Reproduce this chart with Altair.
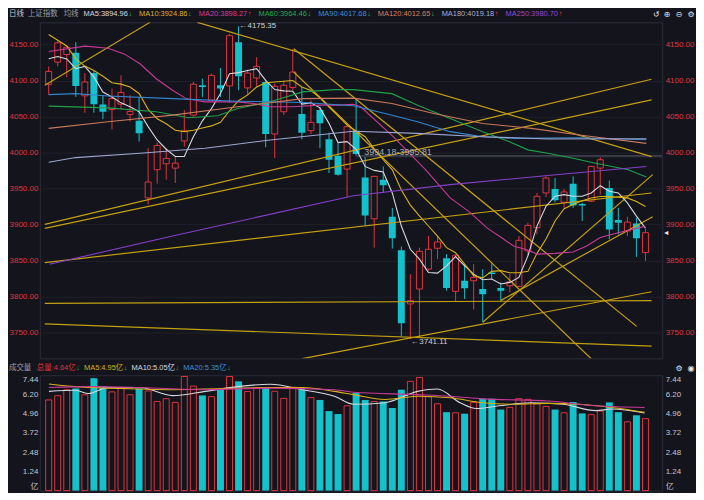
import altair as alt
import pandas as pd

# ---------------- data ----------------
opens = [4094.8, 4125.6, 4136.2, 4138.5, 4078.7, 4110.4, 4066.7, 4059.8, 4067.2, 4052.9,
         4044.2, 3937.0, 3976.1, 3984.4, 3978.4, 4016.1, 4052.0, 4093.4, 4072.7, 4093.4,
         4092.5, 4153.2, 4089.7, 4103.5, 4098.0, 4025.8, 4056.6, 4090.2, 4053.4, 4030.4,
         4058.9, 4018.4, 3995.4, 3977.0, 4030.4, 3965.5, 3908.0, 3962.3, 3910.8, 3864.3,
         3789.8, 3810.5, 3838.1, 3867.1, 3853.3, 3807.3, 3822.0, 3822.0, 3810.5, 3833.5,
         3811.9, 3815.0, 3814.2, 3863.4, 3895.6, 3943.9, 3949.4, 3931.0, 3956.8, 3928.7,
         3932.4, 3978.4, 3950.8, 3906.2, 3891.0, 3901.6, 3861.1]
highs = [4119.6, 4155.5, 4148.6, 4153.2, 4110.4, 4113.2, 4079.6, 4088.8, 4107.2, 4079.6,
         4077.3, 4006.0, 4013.8, 4006.0, 3994.5, 4058.9, 4098.0, 4102.6, 4109.5, 4117.3,
         4164.7, 4175.35, 4115.0, 4132.5, 4100.3, 4095.7, 4098.0, 4144.0, 4091.1, 4072.7,
         4063.5, 4027.6, 4012.9, 4040.5, 4075.0, 3994.18, 3967.8, 3980.7, 3923.2, 3869.4,
         3831.2, 3868.0, 3884.1, 3884.1, 3858.8, 3858.8, 3845.0, 3845.0, 3838.1, 3846.0,
         3819.7, 3831.2, 3884.1, 3902.5, 3943.9, 3966.9, 3964.6, 3949.4, 3966.9, 3930.1,
         3981.6, 3993.6, 3961.0, 3923.2, 3910.8, 3909.4, 3894.2]
lows = [4080.5, 4119.6, 4104.9, 4077.3, 4055.2, 4055.2, 4046.5, 4032.2, 4059.8, 4042.8,
        4015.2, 3927.8, 3956.8, 3962.3, 3957.7, 4008.3, 4049.7, 4077.3, 4071.8, 4077.3,
        4069.0, 4086.5, 4079.6, 4092.5, 4007.4, 3992.2, 4052.0, 4086.5, 4018.4, 4025.8,
        4006.0, 3971.5, 3967.8, 3938.4, 3995.81, 3898.8, 3868.0, 3943.9, 3866.6, 3745.0,
        3741.11, 3743.0, 3835.8, 3851.9, 3808.2, 3793.0, 3796.7, 3782.0, 3765.0, 3824.3,
        3794.4, 3805.9, 3812.8, 3856.5, 3886.4, 3938.4, 3931.0, 3923.2, 3923.2, 3904.8,
        3931.0, 3941.6, 3879.5, 3886.4, 3884.1, 3855.1, 3849.6]
closes = [4112.7, 4152.3, 4146.3, 4092.5, 4098.0, 4067.2, 4056.6, 4075.0, 4083.3, 4057.1,
          4026.7, 3959.1, 4009.7, 3991.8, 3985.3, 4030.0, 4094.8, 4091.1, 4107.2, 4088.8,
          4162.4, 4105.8, 4110.4, 4119.6, 4025.8, 4092.0, 4093.4, 4111.8, 4027.6, 4041.9,
          4040.5, 3990.0, 3969.2, 4035.9, 3998.0, 3912.6, 3966.9, 3954.5, 3880.9, 3763.1,
          3794.4, 3862.9, 3865.7, 3875.8, 3811.9, 3857.4, 3811.4, 3826.6, 3803.2, 3831.2,
          3808.2, 3820.6, 3878.1, 3898.8, 3939.3, 3964.6, 3933.8, 3945.3, 3926.4, 3926.4,
          3980.7, 3990.0, 3893.3, 3902.5, 3903.4, 3880.9, 3888.7]
volumes = [5.85, 6.12, 6.51, 6.59, 6.18, 7.25, 6.74, 6.37, 6.59, 6.18,
           6.59, 6.43, 5.75, 5.93, 5.69, 7.36, 6.74, 6.14, 6.06, 6.59,
           7.36, 7.05, 6.39, 6.65, 6.65, 6.41, 5.95, 6.67, 6.53, 6.00,
           5.85, 5.13, 4.94, 5.47, 6.30, 5.85, 5.75, 5.75, 5.33, 6.51,
           7.05, 7.30, 6.06, 5.60, 5.06, 5.02, 4.96, 5.69, 5.93, 5.93,
           5.23, 5.37, 5.93, 5.89, 5.60, 5.43, 5.23, 5.02, 5.71, 4.98,
           4.90, 5.13, 5.69, 5.06, 4.44, 4.86, 4.64]

ma5_vals = [4130.2, 4133.4, 4130.0, 4116.4, 4119.6, 4105.0, 4084.0, 4077.0, 4069.0, 4063.5,
            4056.6, 4036.0, 4017.5, 4004.6, 3994.5, 3994.5, 4022.0, 4044.0, 4061.0, 4082.0,
            4109.5, 4111.0, 4114.0, 4116.4, 4100.3, 4087.4, 4085.6, 4085.0, 4067.2, 4069.0,
            4062.0, 4040.5, 4013.8, 4015.2, 4004.6, 3980.7, 3975.2, 3972.9, 3943.9, 3897.9,
            3865.7, 3851.9, 3833.5, 3832.6, 3842.7, 3855.6, 3842.7, 3831.2, 3823.4, 3824.3,
            3817.4, 3819.7, 3826.6, 3856.5, 3897.9, 3925.5, 3939.3, 3941.6, 3939.3, 3939.3,
            3943.9, 3954.0, 3946.2, 3943.9, 3930.1, 3911.7, 3895.0]
ma10_vals = [4164, 4156, 4148, 4130, 4120, 4114, 4106, 4097, 4095, 4091,
             4082, 4060, 4047, 4040, 4031, 4029, 4031, 4034, 4037, 4042,
             4058, 4072, 4080, 4091, 4097, 4098, 4099, 4100, 4091, 4086,
             4076, 4063, 4051, 4038, 4030, 4022, 4005, 3990, 3976, 3948,
             3927, 3912, 3898, 3884, 3868, 3861, 3845, 3829, 3826, 3835,
             3836, 3833, 3833, 3835, 3860, 3880, 3905, 3922, 3928, 3933,
             3937, 3939, 3939, 3938, 3937, 3932, 3925]
ma20_at = [1.0, 5.05, 7.56, 9.35, 11.1, 12.9, 14.7, 16.2, 18.3, 21.9, 23.7, 25.5, 28.0, 30.9,
           33.2, 34.7, 35.5, 39.1, 42.7, 45.4, 47.5, 49.5, 51.1, 52.4, 53.7, 55.05, 57.0,
           59.0, 60.5, 62.0, 64.0, 66.9]
ma20_vals = [4140.3, 4147.7, 4144.9, 4137.0, 4123.2, 4102.5, 4086.5, 4074.9, 4070.4, 4070.4,
             4068.0, 4063.5, 4063.5, 4065.8, 4065.8, 4067.0, 4063.5, 4022.0, 3976.0, 3937.0,
             3918.0, 3895.0, 3881.7, 3870.2, 3865.7, 3859.0, 3860.0, 3862.0, 3870.2, 3882.0,
             3888.6, 3897.5]
ma60_at = [1, 7.56, 12.9, 16.5, 19.7, 21.9, 25.5, 29.1, 32.7, 34.7, 38.96, 41.8, 45.4, 49.0,
           51.9, 54.0, 56.2, 59.0, 61.5, 65.1, 67.1]
ma60_vals = [4064.4, 4062.0, 4056.6, 4048.3, 4051.0, 4061.1, 4070.4, 4084.2, 4087.3, 4087.3,
             4081.8, 4065.8, 4047.3, 4029.0, 4015.2, 4003.7, 3999.0, 3992.1, 3985.2, 3976.0,
             3966.0]
ma90_at = [1, 3.97, 7.56, 14.7, 21.9, 29.1, 34.7, 38.2, 41.8, 45.4, 49.0, 52.6, 59.7, 67.1]
ma90_vals = [4080.4, 4081.8, 4078.6, 4074.9, 4071.3, 4069.4, 4065.0, 4054.2, 4042.8, 4029.0,
             4022.0, 4019.7, 4020.6, 4017.7]
ma120_at = [1, 7.56, 14.7, 21.9, 29.1, 34.7, 38.96, 43.6, 49.0, 54.4, 59.7, 67.1]
ma120_vals = [4033.5, 4042.8, 4052.0, 4063.5, 4074.9, 4075.5, 4068.0, 4054.2, 4040.4, 4033.5,
              4024.3, 4012.7]
ma180_at = [1, 3.97, 11.1, 18.3, 25.5, 34.7, 41.8, 49.0, 56.2, 67.1]
ma180_vals = [3986.6, 3993.0, 3999.0, 4005.9, 4017.5, 4029.5, 4026.6, 4022.0, 4018.9, 4019.2]
ma250_at = [1.1, 14.7, 34.7, 45.4, 56.2, 67.1]
ma250_vals = [3845.0, 3884.0, 3940.0, 3955.4, 3968.2, 3980.7]

vma5_at = [1.03, 3.98, 5.4, 7.56, 11.1, 14.7, 18.3, 21.9, 25.5, 29.1, 32.6, 34.7, 38.2, 41.8,
           44.0, 46.5, 48.3, 50.8, 54.4, 57.9, 61.5, 63.3, 66.9]
vma5_vals = [6.40, 6.47, 6.26, 6.65, 6.65, 6.13, 6.40, 6.71, 6.86, 6.51, 6.09, 5.57, 5.67, 6.40,
             6.55, 5.67, 5.30, 5.47, 5.67, 5.57, 5.16, 5.26, 5.01]
vma10_at = [1.03, 3.98, 7.56, 11.1, 14.7, 18.3, 25.5, 29.1, 32.6, 34.7, 38.2, 41.8, 45.4, 49.0,
            52.6, 56.2, 59.7, 63.3, 66.9]
vma10_vals = [6.88, 6.71, 6.61, 6.55, 6.51, 6.55, 6.65, 6.65, 6.40, 6.19, 5.88, 6.09, 5.99, 5.67,
              5.57, 5.63, 5.57, 5.36, 5.05]
vma20_at = [1.03, 5.77, 11.1, 18.3, 25.5, 32.6, 34.7, 41.8, 45.4, 49.0, 56.2, 61.5, 66.9]
vma20_vals = [6.65, 6.71, 6.65, 6.51, 6.61, 6.51, 6.34, 6.19, 6.09, 5.92, 5.78, 5.47, 5.36]

# drawn trend lines: (candle index, price) start and end
trend_x1 = [0.57, 17.45, 0.57, 0.57, 0.57, 0.57, 0.57, 29.06, 28.1, 28.1, 49.0, 50.97]
trend_p1 = [4093.4, 4180.8, 3900.2, 3894.6, 3847.2, 3790.6, 3762.2, 3713.8, 4144.0, 4111.8, 3764.4, 3794.4]
trend_x2 = [12.2, 67.67, 67.67, 67.67, 67.67, 67.67, 67.67, 67.67, 66.03, 61.3, 67.8, 67.8]
trend_p2 = [4180.8, 3994.4, 4101.7, 4073.1, 3943.8, 3794.4, 3731.3, 3806.7, 3758.6, 3710.0, 3969.3, 3910.8]

price_ticks = [3750, 3800, 3850, 3900, 3950, 4000, 4050, 4100, 4150]
vol_ticks = [0, 1.24, 2.48, 3.72, 4.96, 6.20, 7.44]

high_idx, high_mark = 22, 4175.35
low_idx, low_mark = 41, 3741.11
gap_idx, gap_lo, gap_hi = 35, 3994.18, 3995.81

ma_names = ["MA5", "MA10", "MA20", "MA60", "MA90", "MA120", "MA180", "MA250"]
ma_last = [3894.96, 3924.86, 3898.27, 3964.46, 4017.68, 4012.65, 4019.18, 3980.70]
ma_dir = ["down", "down", "up", "down", "down", "down", "up", "up"]
vol_total, vol_total_dir = 4.64, "down"
vma_names = ["MA5", "MA10", "MA20"]
vma_last = [4.95, 5.05, 5.35]
vma_dir = ["down", "down", "down"]

# ---------------- styling / layout ----------------
BG = "#13141c"
UP_C = "#e0343e"
DN_C = "#15c1cb"
TREND_C = "#c4a012"
GRID_C = "#1f2029"
BORDER_C = "#2b2d39"
TXT_C = "#c9cad2"
DIM_C = "#9d9ea8"
ARR_DN = "#1fbf5a"
ARR_UP = "#f0303a"
ICON_C = "#e4e4ea"
ma_colors = ["#d8d8de", "#d8b21a", "#c93a97", "#21a04a", "#3586d0", "#c9785c", "#9ea6cf", "#8440c8"]
hdr_colors = ["#d9dae0", "#dcb51c", "#d83b9c", "#23a94d", "#3a8ddd", "#d98060", "#a6add8", "#9548d8"]
vma_colors = ["#c9a514", "#d0d0d8", "#3586d0"]
vhdr_colors = ["#d6b01c", "#d9dae0", "#3a8ddd"]

W, H1, H2 = 626, 338, 116
NUM_FONT = "Liberation Sans"
MIX_FONT = "Liberation Sans, Noto Sans CJK SC"
SYM_FONT = "DejaVu Sans"
HDR_SIZE = 7.5
REF_SHIFT = -35          # reference x -> offset from plot's left edge (+4 px page shift)

n = len(opens)
df = pd.DataFrame({"i": list(range(1, n + 1)), "o": opens, "h": highs, "l": lows,
                   "c": closes, "v": volumes})

xs = alt.Scale(domain=[0.57, 68.3], nice=False, zero=False)
ys = alt.Scale(domain=[3714.2, 4180.8], nice=False, zero=False)
vs = alt.Scale(domain=[0, 7.44], nice=False, zero=True)
X = alt.X("i:Q", scale=xs, axis=None)

UPF = "datum.c >= datum.o"
DNF = "datum.c < datum.o"

left_axis = alt.Axis(orient="left", values=price_ticks, format=".2f", labelColor=UP_C,
                     labelFontSize=8, labelFont=NUM_FONT, ticks=False, domain=False, grid=True,
                     gridColor=GRID_C, labelPadding=2, title=None)
right_axis = alt.Axis(orient="right", values=price_ticks, format=".2f", labelColor=UP_C,
                      labelFontSize=8, labelFont=NUM_FONT, ticks=False, domain=False,
                      grid=False, labelPadding=3, title=None)


def est_width(s, size):
    w = 0.0
    for ch in s:
        if ch.isdigit():
            w += 0.556
        elif ch in ".:":
            w += 0.278
        elif ch == "M":
            w += 0.833
        elif ch == "A":
            w += 0.667
        elif ord(ch) > 0x2E80:
            w += 1.0
        else:
            w += 0.556
    return w * size


def text_at(s, px, py, color, align="left", font=MIX_FONT, size=HDR_SIZE):
    return alt.Chart(pd.DataFrame({"t": [s]})).mark_text(
        align=align, baseline="middle", font=font, fontSize=size, color=color
    ).encode(x=alt.value(px), y=alt.value(py), text="t:N")


def arrow_char(d):
    return ("↓", ARR_DN) if d == "down" else ("↑", ARR_UP)


def header_row(plain, items, start_ref, py, gap):
    out = []
    for s, ref_x, col in plain:
        out.append(text_at(s, ref_x + REF_SHIFT, py, col))
    x = start_ref + REF_SHIFT
    for s, col, d in items:
        out.append(text_at(s, x, py, col))
        x += est_width(s, HDR_SIZE) + 0.5
        ch, acol = arrow_char(d)
        out.append(text_at(ch, x, py, acol, font=NUM_FONT))
        x += 0.5 * HDR_SIZE + gap
    return out


def icons(symbols, ref_xs, py):
    return [text_at(s, rx + REF_SHIFT - 6, py, ICON_C, align="center", font=SYM_FONT, size=8)
            for s, rx in zip(symbols, ref_xs)]


base = alt.Chart(df)
wick_up = base.transform_filter(UPF).mark_rule(color=UP_C, strokeWidth=1, clip=True).encode(
    x=X, y=alt.Y("l:Q", scale=ys, axis=left_axis), y2="h:Q")
wick_dn = base.transform_filter(DNF).mark_rule(color=DN_C, strokeWidth=1, clip=True).encode(
    x=X, y=alt.Y("l:Q", scale=ys, axis=None), y2="h:Q")
body_dn = base.transform_filter(DNF).mark_bar(size=7, color=DN_C, clip=True).encode(
    x=X, y=alt.Y("o:Q", scale=ys, axis=None), y2="c:Q")
body_up = base.transform_filter(UPF).mark_bar(size=6, fill=BG, stroke=UP_C, strokeWidth=1,
                                              clip=True).encode(
    x=X, y=alt.Y("o:Q", scale=ys, axis=None), y2="c:Q")

rows = []
series = [("MA5", list(range(1, n + 1)), ma5_vals), ("MA10", list(range(1, n + 1)), ma10_vals),
          ("MA20", ma20_at, ma20_vals), ("MA60", ma60_at, ma60_vals), ("MA90", ma90_at, ma90_vals),
          ("MA120", ma120_at, ma120_vals), ("MA180", ma180_at, ma180_vals),
          ("MA250", ma250_at, ma250_vals)]
for name, ats, vals in series:
    for a, b in zip(ats, vals):
        rows.append({"name": name, "i": a, "val": b})
ma_df = pd.DataFrame(rows)
ma_lines = alt.Chart(ma_df).mark_line(strokeWidth=1.1, clip=True).encode(
    x=alt.X("i:Q", scale=xs, axis=None), y=alt.Y("val:Q", scale=ys, axis=None),
    color=alt.Color("name:N", scale=alt.Scale(domain=ma_names, range=ma_colors), legend=None))

tr_df = pd.DataFrame({"x1": trend_x1, "p1": trend_p1, "x2": trend_x2, "p2": trend_p2})
trends = alt.Chart(tr_df).mark_rule(color=TREND_C, strokeWidth=1.2, clip=True).encode(
    x=alt.X("x1:Q", scale=xs, axis=None), x2="x2:Q",
    y=alt.Y("p1:Q", scale=ys, axis=None), y2="p2:Q")

gap_df = pd.DataFrame({"i": [gap_idx, gap_idx], "p": [gap_lo, gap_hi]})
gap_lines = alt.Chart(gap_df).mark_rule(color="#3d3f4c", strokeWidth=1, clip=True).encode(
    x=alt.X("i:Q", scale=xs, axis=None), x2=alt.value(W), y=alt.Y("p:Q", scale=ys, axis=None))
gap_text = alt.Chart(pd.DataFrame({"i": [gap_idx + 0.9], "p": [4001.0],
                                   "t": [f"{gap_lo:.2f}-{gap_hi:.2f}"]})).mark_text(
    align="left", baseline="middle", font=NUM_FONT, fontSize=9, color="#a9aab4").encode(
    x=alt.X("i:Q", scale=xs, axis=None), y=alt.Y("p:Q", scale=ys, axis=None), text="t:N")

hi_text = alt.Chart(pd.DataFrame({"i": [high_idx], "p": [high_mark],
                                  "t": [f"←{high_mark:.2f}"]})).mark_text(
    align="left", baseline="middle", dx=1, font=NUM_FONT, fontSize=8, color="#cfd0d8").encode(
    x=alt.X("i:Q", scale=xs, axis=None), y=alt.Y("p:Q", scale=ys, axis=None), text="t:N")
lo_text = alt.Chart(pd.DataFrame({"i": [low_idx], "p": [low_mark],
                                  "t": [f"←{low_mark:.2f}"]})).mark_text(
    align="left", baseline="middle", dx=1, dy=3, font=NUM_FONT, fontSize=8, color="#cfd0d8").encode(
    x=alt.X("i:Q", scale=xs, axis=None), y=alt.Y("p:Q", scale=ys, axis=None), text="t:N")

last_mark = alt.Chart(pd.DataFrame({"p": [closes[-1]], "t": ["◂"]})).mark_text(
    align="left", baseline="middle", font=SYM_FONT, fontSize=8, color="#e8e8ee").encode(
    x=alt.value(W + 2), y=alt.Y("p:Q", scale=ys, axis=None), text="t:N")

top_items = [(f"{nm}:{v:.2f}", col, d) for nm, v, col, d in zip(ma_names, ma_last, hdr_colors, ma_dir)]
top_hdr = header_row([("日线", 4, TXT_C), ("上证指数", 23, DIM_C), ("均线", 59, DIM_C)],
                     top_items, 79, -8, 7)
top_icons = icons(["↺", "⊕", "⊖", "⚙"], [661, 672, 684, 696], -7.5)

price_right = base.mark_point(opacity=0, size=1).encode(
    x=X, y=alt.Y("h:Q", scale=ys, axis=right_axis))
price = alt.layer(wick_up, wick_dn, body_dn, body_up, gap_lines, trends, ma_lines,
                  gap_text, hi_text, lo_text, last_mark, *top_hdr, *top_icons, price_right
                  ).resolve_scale(y="independent").properties(width=W, height=H1)

# ---------------- volume panel ----------------
vlabel = "datum.value == 0 ? '亿' : format(datum.value, '.2f')"
vleft = alt.Axis(orient="left", values=vol_ticks, labelExpr=vlabel, labelColor="#c4c5cc",
                 labelFontSize=8, labelFont=MIX_FONT, ticks=False, domain=False, grid=False,
                 labelFlush=True, labelPadding=2, title=None)
vright = alt.Axis(orient="right", values=vol_ticks, labelExpr=vlabel, labelColor="#c4c5cc",
                  labelFontSize=8, labelFont=MIX_FONT, ticks=False,
                  domain=False, grid=False, labelFlush=True, labelPadding=3, title=None)

vol_dn = base.transform_filter(DNF).mark_bar(size=7, color=DN_C).encode(
    x=X, y=alt.Y("v:Q", scale=vs, axis=vleft))
vol_up = base.transform_filter(UPF).mark_bar(size=6, fill=BG, stroke=UP_C, strokeWidth=1).encode(
    x=X, y=alt.Y("v:Q", scale=vs, axis=None))

vrows = []
for name, ats, vals in [("MA5", vma5_at, vma5_vals), ("MA10", vma10_at, vma10_vals),
                        ("MA20", vma20_at, vma20_vals)]:
    for a, b in zip(ats, vals):
        vrows.append({"name": name, "i": a, "val": b})
vma_df = pd.DataFrame(vrows)
vma_lines = alt.Chart(vma_df).mark_line(strokeWidth=1.1, interpolate="monotone").encode(
    x=alt.X("i:Q", scale=xs, axis=None), y=alt.Y("val:Q", scale=vs, axis=None),
    color=alt.Color("name:N", scale=alt.Scale(domain=vma_names, range=vma_colors), legend=None))

vol_items = [(f"总量:{vol_total:.2f}亿", UP_C, vol_total_dir)] + \
            [(f"{nm}:{v:.2f}亿", col, d) for nm, v, col, d in zip(vma_names, vma_last, vhdr_colors, vma_dir)]
vol_hdr = header_row([("成交量", 4, DIM_C)], vol_items, 32, -7, 4)
vol_icons = icons(["⚙", "◉"], [684, 696], -6.5)

vol_right = base.mark_point(opacity=0, size=1).encode(x=X, y=alt.Y("v:Q", scale=vs, axis=vright))
volume = alt.layer(vol_dn, vol_up, vma_lines, *vol_hdr, *vol_icons, vol_right
                   ).resolve_scale(y="independent").properties(width=W, height=H2)

chart = alt.vconcat(price, volume, spacing=4).properties(
    padding={"left": 0, "top": 0, "right": 0, "bottom": 0}, background=BG
).configure_view(stroke=BORDER_C, strokeWidth=1, fill=BG)

chart.save("out.html", embed_options={"renderer": "svg", "actions": False})
